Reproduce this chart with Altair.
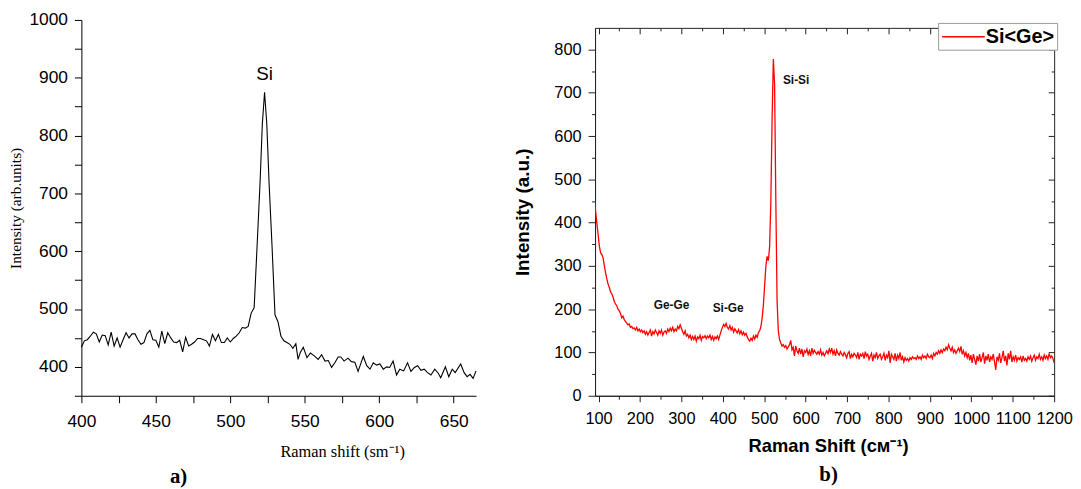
import altair as alt
import pandas as pd

# ---------------- data: panel a) ----------------
left_x = [400, 402, 404, 406, 408, 410, 412, 414, 416, 418,
          420, 422, 424, 426, 428, 430, 432, 434, 436, 438,
          440, 442, 444, 446, 448, 450, 452, 454, 456, 458,
          460, 462, 464, 466, 468, 470, 472, 474, 476, 478,
          480, 482, 484, 486, 488, 490, 492, 494, 496, 498,
          500, 502, 504, 506, 508, 510, 512, 514, 516, 518,
          520, 521.5, 523, 524.5, 526, 528, 530, 532, 534, 536,
          538, 540, 542, 544, 545.5, 547, 549, 551.5, 553.8, 556.4,
          559, 561.3, 563.6, 565.8, 568, 570.2, 572.4, 574.2, 576.4, 579,
          581.3, 583.6, 585.8, 589.3, 591.6, 593.8, 596, 598.2, 600.4, 602.7,
          605, 607, 609.3, 611.6, 613.8, 616.4, 619, 621.3, 623.6, 625.8,
          628, 630.2, 632.4, 634.7, 637.3, 639.6, 641.3, 644.4, 646.7, 649,
          651, 654.7, 657, 659, 661, 663, 665]
left_y = [434, 445, 447, 453, 460, 457, 443, 455, 454, 438,
          460, 436, 450, 434, 447, 459, 450, 457, 457, 447,
          439, 442, 457, 463, 447, 446, 434, 462, 440, 459,
          450, 443, 442, 446, 426, 451, 436, 439, 443, 449,
          449, 447, 445, 436, 456, 445, 456, 442, 442, 450,
          443, 449, 453, 459, 468, 467, 470, 493, 502, 610,
          720, 820, 875, 820, 720, 610, 490, 478, 453, 445,
          442, 439, 432, 440, 413, 425, 434, 416, 424, 419,
          413, 421, 410, 411, 399, 407, 417, 417, 410, 415,
          409, 408, 392, 418, 402, 396, 407, 403, 405, 396,
          400, 399, 410, 386, 396, 393, 407, 392, 399, 402,
          394, 396, 390, 386, 396, 389, 381, 400, 383, 396,
          390, 405, 390, 383, 387, 380, 393]
left_ticks_x = [400, 425, 450, 475, 500, 525, 550, 575, 600, 625, 650]
left_ticks_y = [350, 400, 450, 500, 550, 600, 650, 700, 750, 800, 850, 900, 950, 1000]
left_note = ["Si"]
left_note_x = [523]
left_note_y = [907]

# ---------------- data: panel b) ----------------
right_y = [452, 425, 398, 372, 345, 330, 326, 318, 300, 284,
           270, 258, 250, 240, 235, 228, 218, 212, 208, 200,
           196, 190, 180, 184, 176, 172, 168, 164, 166, 158,
           160, 155, 157, 152, 158, 150, 154, 148, 152, 146,
           150, 142, 148, 140, 146, 152, 138, 148, 143, 152,
           146, 140, 150, 144, 152, 140, 147, 150, 144, 154,
           148, 156, 150, 158, 148, 154, 150, 160, 155, 164,
           156, 148, 142, 150, 138, 142, 134, 140, 130, 137,
           130, 138, 126, 136, 132, 140, 128, 137, 134, 139,
           132, 138, 134, 140, 130, 137, 128, 136, 132, 138,
           130, 140, 150, 158, 165, 160, 167, 158, 154, 162,
           152, 158, 147, 155, 150, 145, 153, 143, 150, 141,
           147, 140, 144, 136, 130, 126, 133, 128, 138, 131,
           140, 135, 146, 150, 160, 180, 210, 255, 300, 322,
           312, 345, 450, 640, 778, 720, 450, 220, 150, 130,
           122, 115, 118, 112, 116, 108, 113, 118, 128, 106,
           112, 92, 115, 104, 98, 110, 96, 108, 90, 104,
           100, 108, 95, 104, 92, 110, 98, 105, 100, 96,
           102, 96, 106, 94, 100, 92, 98, 104, 97, 108,
           100, 110, 96, 104, 92, 106, 98, 94, 102, 96,
           92, 100, 95, 88, 98, 102, 86, 96, 90, 98,
           94, 88, 100, 84, 96, 92, 98, 86, 102, 92,
           96, 84, 92, 98, 80, 94, 88, 100, 86, 92,
           96, 84, 90, 98, 82, 94, 88, 104, 76, 96,
           90, 84, 98, 80, 94, 86, 100, 82, 90, 78,
           88, 82, 86, 80, 88, 84, 90, 86, 88, 84,
           92, 86, 90, 84, 94, 88, 92, 86, 96, 90,
           88, 94, 86, 98, 92, 100, 96, 104, 98, 106,
           100, 108, 104, 112, 106, 118, 110, 104, 112, 100,
           106, 98, 104, 110, 102, 114, 96, 104, 92, 100,
           88, 98, 82, 94, 76, 96, 84, 72, 92, 80,
           96, 78, 88, 100, 74, 92, 82, 96, 78, 90,
           84, 96, 78, 60, 90, 82, 98, 76, 88, 104,
           80, 92, 70, 98, 84, 104, 78, 90, 82, 94,
           80, 88, 84, 90, 78, 92, 82, 86, 80, 90,
           84, 92, 80, 88, 94, 82, 90, 86, 96, 84,
           90, 82, 94, 86, 92, 84, 98, 88, 92, 86,
           76]
right_x_start = 90
right_x_step = 3
right_series = "Si<Ge>"
right_major_x = [100, 200, 300, 400, 500, 600, 700, 800, 900, 1000, 1100, 1200]
right_minor_x = [150, 250, 350, 450, 550, 650, 750, 850, 950, 1050, 1150]
right_major_y = [0, 100, 200, 300, 400, 500, 600, 700, 800]
right_minor_y = [50, 150, 250, 350, 450, 550, 650, 750]
right_notes = ["Ge-Ge", "Si-Ge", "Si-Si"]
right_notes_x = [276, 413, 577]
right_notes_y = [210, 203, 729]

right_x = [right_x_start + right_x_step * i for i in range(len(right_y))]

SANS = "Liberation Sans"
SERIF = "Liberation Serif"

left_df = pd.DataFrame({"x": left_x, "y": left_y})
left_note_df = pd.DataFrame({"t": left_note, "x": left_note_x, "y": left_note_y})
right_df = pd.DataFrame({"x": right_x, "y": right_y, "series": [right_series] * len(right_y)})
right_note_df = pd.DataFrame({"t": right_notes, "x": right_notes_x, "y": right_notes_y})

# ---------------- panel a) ----------------
lxs = alt.Scale(domain=[400, 665], nice=False, zero=False)
lys = alt.Scale(domain=[350, 1000], nice=False, zero=False)

left_line = alt.Chart(left_df).mark_line(color="black", strokeWidth=1.1).encode(
    x=alt.X("x:Q", scale=lxs, axis=alt.Axis(
        orient="bottom", values=left_ticks_x, format="d",
        labelExpr="datum.value % 50 == 0 ? datum.label : ''",
        title="Raman shift (sm⁻¹)", titleFont=SERIF, titleFontSize=16.5,
        titleFontWeight="normal", titleColor="black", titleX=263, titlePadding=14,
        labelFont=SANS, labelFontSize=17.5, labelColor="black", labelPadding=10,
        labelOverlap=False, labelFlush=False,
        tickSize=7, tickColor="black", domainColor="black", grid=False)),
    y=alt.Y("y:Q", scale=lys, axis=alt.Axis(
        orient="left", values=left_ticks_y, format="d",
        labelExpr="datum.value % 100 == 0 ? datum.label : ''",
        title="Intensity (arb.units)", titleFont=SERIF, titleFontSize=15.5,
        titleFontWeight="normal", titleColor="black", titlePadding=5,
        labelFont=SANS, labelFontSize=17.5, labelColor="black", labelPadding=7,
        labelOverlap=False, labelFlush=False,
        tickSize=7, tickColor="black", domainColor="black", grid=False)),
)
left_text = alt.Chart(left_note_df).mark_text(
    font=SANS, fontSize=19, color="black", baseline="middle"
).encode(x=alt.X("x:Q", scale=lxs, axis=None), y=alt.Y("y:Q", scale=lys, axis=None), text="t:N")

left = alt.layer(left_line, left_text).resolve_axis(
    x="independent", y="independent"
).properties(
    width=398, height=379,
    view=alt.ViewBackground(stroke="transparent"),
    title=alt.TitleParams("a)", orient="bottom", anchor="middle", frame="group",
                          dx=-101, font=SERIF, fontSize=21, fontWeight="bold",
                          color="black", offset=6),
)

# ---------------- panel b) ----------------
rxs = alt.Scale(domain=[91.5, 1200], nice=False, zero=False)
rys = alt.Scale(domain=[0, 850], nice=False, zero=False)
tick_cond_x = {"condition": {"test": "datum.value % 100 === 0", "value": 6}, "value": 3.5}
tick_cond_y = {"condition": {"test": "datum.value % 100 === 0", "value": 7}, "value": 3.5}

right_line = alt.Chart(right_df).mark_line(strokeWidth=1.3, clip=True).encode(
    x=alt.X("x:Q", scale=rxs, axis=alt.Axis(
        orient="bottom", values=sorted(right_major_x + right_minor_x), format="d",
        labelExpr="datum.value % 100 == 0 ? datum.label : ''",
        title="Raman Shift (см⁻¹)", titleFont=SANS, titleFontSize=18.5,
        titleFontWeight="bold", titleColor="black", titlePadding=10, titleX=235,
        labelFont=SANS, labelFontSize=16.5, labelColor="black", labelPadding=9,
        tickSize=tick_cond_x, tickColor="#222", domainColor="#222", grid=False,
        labelOverlap=False, labelFlush=False)),
    y=alt.Y("y:Q", scale=rys, axis=alt.Axis(
        orient="left", values=sorted(right_major_y + right_minor_y), format="d",
        labelExpr="datum.value % 100 == 0 ? datum.label : ''",
        title="Intensity (a.u.)", titleFont=SANS, titleFontSize=19,
        titleFontWeight="bold", titleColor="black", titlePadding=22,
        labelFont=SANS, labelFontSize=16.5, labelColor="black", labelPadding=7,
        tickSize=tick_cond_y, tickColor="#222", domainColor="#222", grid=False,
        labelOverlap=False, labelFlush=False)),
    color=alt.Color("series:N", scale=alt.Scale(domain=[right_series], range=["#ff0000"]),
                    legend=alt.Legend(title=None, orient="none", legendX=864, legendY=3,
                                      symbolType="M-1,0H3.3", symbolSize=400,
                                      symbolStrokeWidth=1.5, labelFont=SANS,
                                      labelFontSize=20, labelFontWeight="bold",
                                      labelColor="black", labelOffset=23,
                                      strokeColor="#9a9a9a", fillColor="white",
                                      padding=3)),
)

inner_major = alt.Chart(right_df).mark_line(strokeOpacity=0).encode(
    x=alt.X("x:Q", scale=rxs, axis=alt.Axis(
        orient="top", values=right_major_x, labels=False, domain=False, title=None,
        tickSize=6, offset=-6, tickColor="#222", grid=False)),
    y=alt.Y("y:Q", scale=rys, axis=alt.Axis(
        orient="right", values=right_major_y, labels=False, domain=False, title=None,
        tickSize=6, offset=-6, tickColor="#222", grid=False)),
)
inner_minor = alt.Chart(right_df).mark_line(strokeOpacity=0).encode(
    x=alt.X("x:Q", scale=rxs, axis=alt.Axis(
        orient="top", values=right_minor_x, labels=False, domain=False, title=None,
        tickSize=3, offset=-3, tickColor="#222", grid=False)),
    y=alt.Y("y:Q", scale=rys, axis=alt.Axis(
        orient="right", values=right_minor_y, labels=False, domain=False, title=None,
        tickSize=3, offset=-3, tickColor="#222", grid=False)),
)
right_text = alt.Chart(right_note_df).mark_text(
    font=SANS, fontSize=12, fontWeight="bold", color="#111", baseline="middle"
).encode(x=alt.X("x:Q", scale=rxs, axis=None), y=alt.Y("y:Q", scale=rys, axis=None), text="t:N")

right = alt.layer(right_line, inner_major, inner_minor, right_text).resolve_axis(
    x="independent", y="independent"
).properties(
    width=463, height=371,
    view=alt.ViewBackground(stroke="#222", strokeWidth=1),
    title=alt.TitleParams("b)", orient="bottom", anchor="middle", frame="group",
                          dx=4, font=SERIF, fontSize=21, fontWeight="bold",
                          color="black", offset=9),
)

spacer = alt.Chart(pd.DataFrame({"v": [0]})).mark_point(opacity=0).encode(
    x=alt.value(0), y=alt.value(0)
).properties(width=1, height=1, view=alt.ViewBackground(stroke="transparent"))

right_col = alt.vconcat(spacer, right, spacing=3)

chart = alt.hconcat(left, right_col, spacing=33).properties(
    padding={"left": 0, "top": 0, "right": 0, "bottom": 0}
).configure_view(stroke="transparent")

chart.save("out.html", embed_options={"renderer": "svg", "actions": False})
